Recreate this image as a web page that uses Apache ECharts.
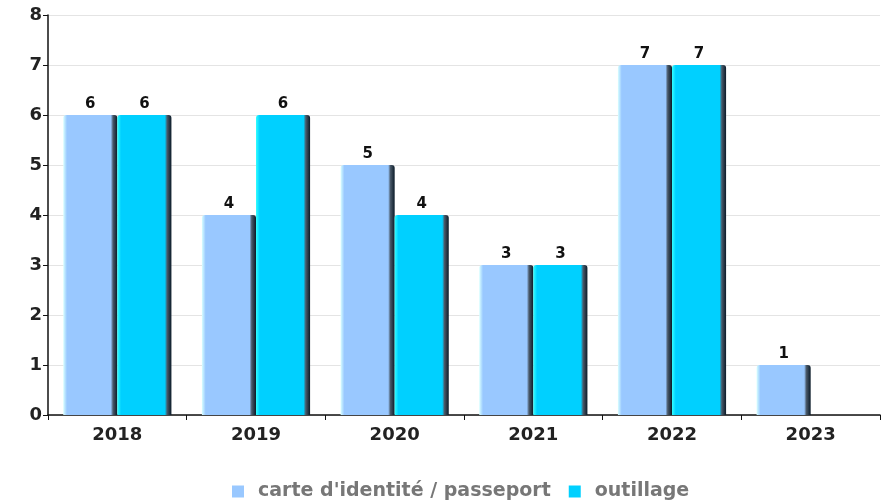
<!DOCTYPE html>
<html>
<head>
<meta charset="utf-8">
<script src="https://cdn.jsdelivr.net/npm/echarts@6/dist/echarts.min.js"></script>
<style>
html,body{margin:0;padding:0;background:#fff;}
#chart{width:890px;height:502px;}
</style>
</head>
<body>
<div id="chart"></div>
<script>
var years = ['2018', '2019', '2020', '2021', '2022', '2023'];
var carteValues = [6, 4, 5, 3, 7, 1];
var outillageValues = [6, 6, 4, 3, 7, null];
var seriesNames = ["carte d'identité / passeport", 'outillage'];
var baseColors = ['#99c8ff', '#00d0ff'];

function barFill(base, light) {
    // faux relief : bord gauche clair, bord droit sombre
    return new echarts.graphic.LinearGradient(0, 0, 1, 0, [
        {offset: 0, color: light},
        {offset: 0.07, color: base},
        {offset: 0.88, color: base},
        {offset: 0.92, color: '#4a5a6a'},
        {offset: 1, color: '#0a1a28'}
    ]);
}

var chart = echarts.init(document.getElementById('chart'));
var font = 'DejaVu Sans';
var label = {
    show: true,
    position: 'top',
    color: '#111',
    fontFamily: font,
    fontWeight: 'bold',
    fontSize: 15,
    distance: 3
};
var option = {
    animation: false,
    textStyle: {fontFamily: font},
    grid: {left: 48, right: 10, top: 15, bottom: 87, containLabel: false},
    legend: {
        bottom: -4,
        left: 227,
        icon: 'rect',
        itemWidth: 12,
        itemHeight: 12,
        itemGap: 18,
        data: [
            {name: seriesNames[0], itemStyle: {color: baseColors[0]}},
            {name: seriesNames[1], itemStyle: {color: baseColors[1]}}
        ],
        textStyle: {color: '#777', fontWeight: 'bold', fontSize: 19, fontFamily: font, padding: [0, 0, 0, 9]}
    },
    xAxis: {
        type: 'category',
        data: years,
        axisLine: {lineStyle: {color: '#111', width: 1.5}},
        axisTick: {show: true, length: 5, lineStyle: {color: '#111'}},
        axisLabel: {color: '#222', fontWeight: 'bold', fontSize: 18, fontFamily: font, margin: 11}
    },
    yAxis: {
        type: 'value',
        min: 0,
        max: 8,
        interval: 1,
        axisLine: {show: true, lineStyle: {color: '#111', width: 1.5}},
        axisTick: {show: true, length: 5, lineStyle: {color: '#111'}},
        axisLabel: {color: '#222', fontWeight: 'bold', fontSize: 18, fontFamily: font, margin: 6},
        splitLine: {lineStyle: {color: '#e4e4e4'}}
    },
    series: [
        {
            name: seriesNames[0],
            type: 'bar',
            data: carteValues,
            barGap: '0%',
            barCategoryGap: '22%',
            itemStyle: {color: barFill(baseColors[0], '#d8ffff'), borderRadius: [3, 3, 0, 0]},
            label: label
        },
        {
            name: seriesNames[1],
            type: 'bar',
            data: outillageValues,
            itemStyle: {color: barFill(baseColors[1], '#33ffff'), borderRadius: [3, 3, 0, 0]},
            label: label
        }
    ]
};
chart.setOption(option);
</script>
</body>
</html>
